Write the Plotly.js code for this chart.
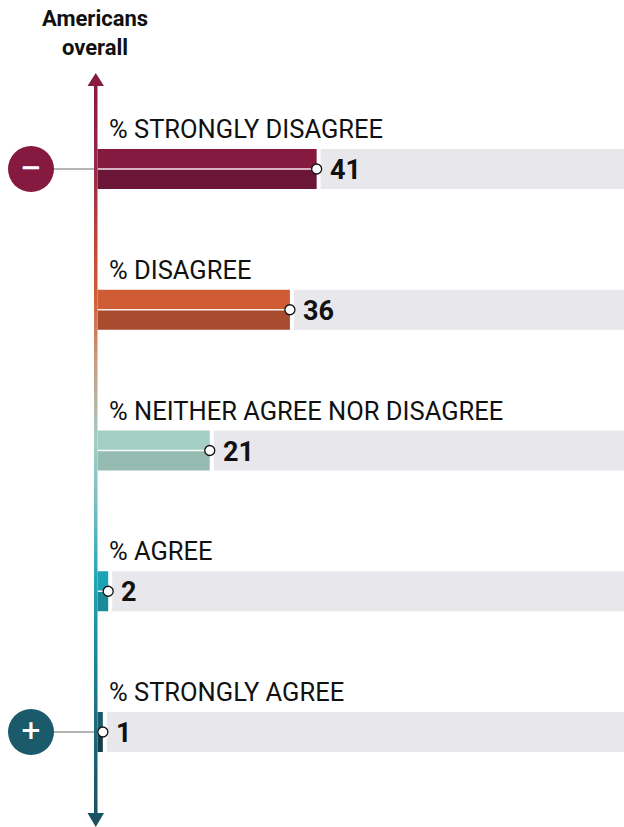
<!DOCTYPE html>
<html>
<head>
<meta charset="utf-8">
<script src="https://cdn.plot.ly/plotly-3.0.1.min.js"></script>
<style>html,body{margin:0;padding:0;background:#fff;}#chart{width:624px;height:827px;}</style>
</head>
<body>
<div id="chart"></div>
<script>
// ---- data ----
const categories = ['% STRONGLY DISAGREE', '% DISAGREE', '% NEITHER AGREE NOR DISAGREE', '% AGREE', '% STRONGLY AGREE'];
const values = [41, 36, 21, 2, 1];
const valueLabels = ['41', '36', '21', '2', '1'];
const upperColors = ['#85193f', '#cf5c34', '#a4cfc3', '#1da3b6', '#1b5a6a'];
const lowerColors = ['#6b1537', '#a94b2e', '#96bcb2', '#1a8a98', '#123f4a'];
const titleText = 'Americans<br>overall';

// ---- geometry helpers (pixel <-> data) ----
const W = 624, H = 827;
const PX0 = 97.5, PXU = 5.345;        // x pixel of value 0, pixels per unit
const PY0 = 169, PYU = 140.75;        // y pixel of first category, pixels per category
const xr = [(0 - PX0) / PXU, (W - PX0) / PXU];
const yr = [(H - PY0) / PYU, (0 - PY0) / PYU];
const dx = px => px / PXU;
const dy = px => px / PYU;
const xAt = px => (px - PX0) / PXU;
const yAt = py => (py - PY0) / PYU;

const idx = categories.map((_, i) => i);
const half = dy(20);
const gap = dx(4);

const traces = [];

// grey background tracks
traces.push({
  type: 'bar', orientation: 'h',
  y: idx, x: values.map(v => 110 - (v + gap)), base: values.map(v => v + gap),
  width: dy(40), marker: {color: '#e8e8ec', line: {width: 0}}, hoverinfo: 'skip'
});
// upper half of bars
traces.push({
  type: 'bar', orientation: 'h',
  y: idx.map(i => i - half / 2), x: values, base: 0,
  width: half, marker: {color: upperColors, line: {width: 0}}, hoverinfo: 'skip'
});
// lower half of bars
traces.push({
  type: 'bar', orientation: 'h',
  y: idx.map(i => i + half / 2), x: values, base: 0,
  width: half, marker: {color: lowerColors, line: {width: 0}}, hoverinfo: 'skip'
});

// white connector lines inside bars
const wx = [], wy = [];
idx.forEach(i => { wx.push(0, values[i], null); wy.push(i, i, null); });
traces.push({type: 'scatter', mode: 'lines', x: wx, y: wy,
  line: {color: 'rgba(255,255,255,0.9)', width: 1.5}, hoverinfo: 'skip'});

// grey leader lines from circles to axis
const endIdx = [0, categories.length - 1];
const gx = [], gy = [];
endIdx.forEach(i => { gx.push(xAt(54), xAt(94), null); gy.push(i, i, null); });
traces.push({type: 'scatter', mode: 'lines', x: gx, y: gy,
  line: {color: '#6b6b6b', width: 1}, hoverinfo: 'skip'});

// axis with arrowheads, gradient fill
const ax = [xAt(94), xAt(94), xAt(87.5), xAt(95.75), xAt(104), xAt(97.5), xAt(97.5), xAt(104), xAt(95.75), xAt(87.5), xAt(94)];
const ay = [yAt(813), yAt(86), yAt(86), yAt(73), yAt(86), yAt(86), yAt(813), yAt(813), yAt(827), yAt(813), yAt(813)];
traces.push({
  type: 'scatter', mode: 'lines', x: ax, y: ay, fill: 'toself',
  line: {width: 0, color: 'rgba(0,0,0,0)'},
  fillgradient: {
    type: 'vertical', start: yAt(73), stop: yAt(827),
    colorscale: [
      [0, '#85193f'], [0.129, '#962a47'], [0.248, '#c44e38'], [0.30, '#cf5f36'],
      [0.38, '#c99a80'], [0.487, '#a5cdc3'], [0.566, '#7cc0c4'], [0.672, '#22a5b5'],
      [0.778, '#1f8595'], [0.885, '#1b6575'], [1, '#1a5060']
    ]
  },
  hoverinfo: 'skip'
});

// end dots
traces.push({type: 'scatter', mode: 'markers', x: values, y: idx,
  marker: {size: 10, color: '#ffffff', line: {color: '#111111', width: 1.3}}, hoverinfo: 'skip'});

// minus / plus circles
traces.push({type: 'scatter', mode: 'markers+text',
  x: [xAt(31), xAt(31)], y: endIdx,
  marker: {size: 46, color: [upperColors[0], upperColors[4]], line: {width: 0}},
  text: ['<b>\u2212</b>', '<b>+</b>'], textposition: 'middle center',
  textfont: {color: '#ffffff', size: 26, family: 'DejaVu Sans, sans-serif'},
  hoverinfo: 'skip'});

const annotations = [];
idx.forEach(i => {
  annotations.push({
    x: xAt(106.5), y: i - dy(40), xref: 'x', yref: 'y', xanchor: 'left', yanchor: 'middle',
    text: categories[i], showarrow: false,
    font: {family: 'Roboto, sans-serif', size: 25.5, color: '#111111'}
  });
  annotations.push({
    x: values[i], y: i, xref: 'x', yref: 'y', xanchor: 'left', yanchor: 'middle',
    xshift: 11, yshift: -1,
    text: '<b>' + valueLabels[i] + '</b>', showarrow: false,
    font: {family: '"Liberation Sans Narrow", "Roboto", sans-serif', size: 27, color: '#111111'}
  });
});
// title
annotations.push({
  x: 95 / W, y: 1 - 33 / H, xref: 'paper', yref: 'paper',
  xanchor: 'center', yanchor: 'middle', showarrow: false,
  text: '<b>' + titleText + '</b>',
  font: {family: 'Roboto, sans-serif', size: 22, color: '#111111'}
});

const layout = {
  width: W, height: H,
  margin: {l: 0, r: 0, t: 0, b: 0, pad: 0},
  paper_bgcolor: '#ffffff', plot_bgcolor: '#ffffff',
  showlegend: false, barmode: 'overlay',
  xaxis: {range: xr, visible: false, fixedrange: true},
  yaxis: {range: yr, visible: false, fixedrange: true},
  annotations: annotations
};

Plotly.newPlot('chart', traces, layout, {displayModeBar: false, staticPlot: true});
</script>
</body>
</html>
